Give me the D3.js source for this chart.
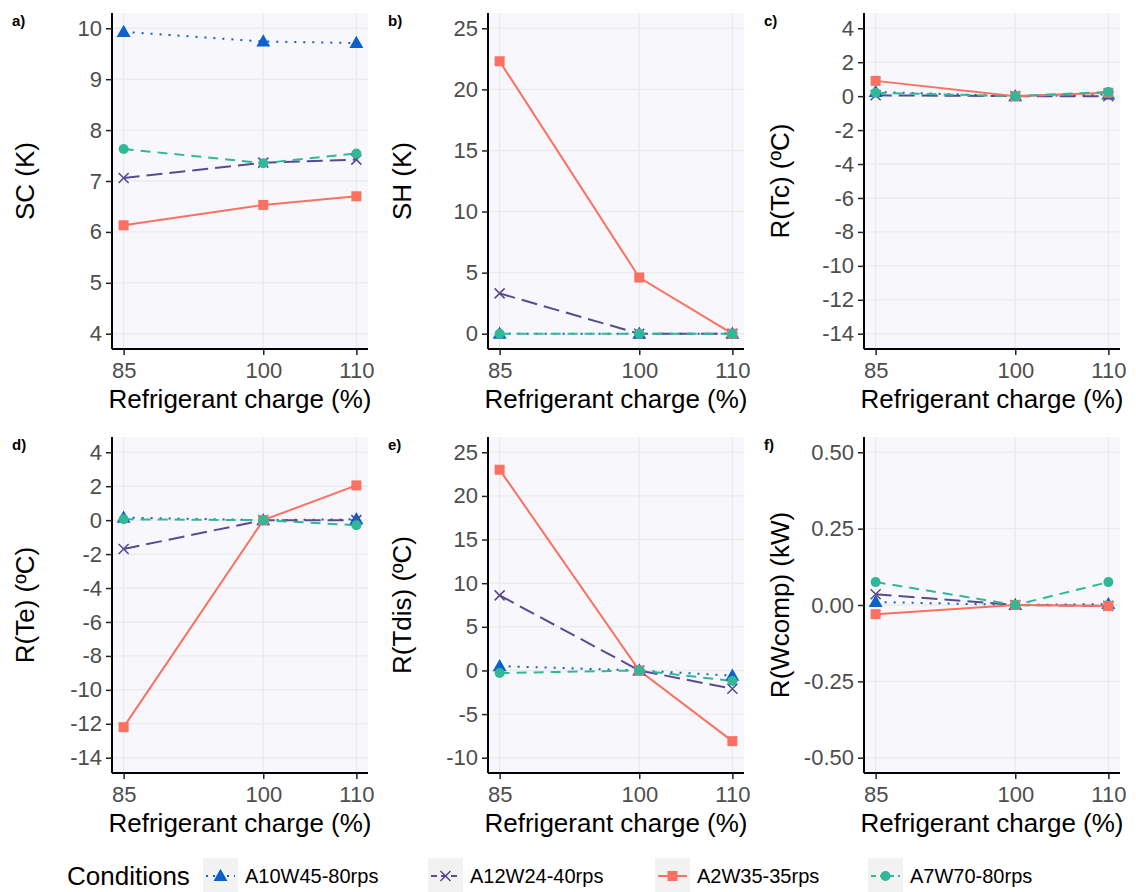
<!DOCTYPE html>
<html>
<head>
<meta charset="utf-8">
<script src="https://cdn.jsdelivr.net/npm/d3@7"></script>
<style>
  body { margin: 0; background: #fff; }
  svg { font-family: "Liberation Sans", Arial, sans-serif; }
</style>
</head>
<body>
<div class="chart"></div>
<script>
// Data
var charges = [85, 100, 110];
var conditions = ["A10W45-80rps", "A12W24-40rps", "A2W35-35rps", "A7W70-80rps"];
var colors = ["#0a61c9", "#5b4a8f", "#fb7060", "#30b898"];
var dashes = ["2,7", "16,7", "", "10,7"];
var shapes = ["triangle", "cross", "square", "circle"];

var scValues = [[9.93, 9.74, 9.71], [7.06, 7.36, 7.42], [6.13, 6.53, 6.70], [7.63, 7.35, 7.54]];
var shValues = [[0, 0, 0], [3.3, 0, 0], [22.3, 4.6, 0], [0, 0, 0]];
var tcValues = [[0.25, 0, 0.1], [0.05, 0, 0], [0.9, 0, 0.2], [0.2, 0, 0.25]];
var teValues = [[0.15, 0, 0.05], [-1.7, 0, 0], [-12.2, 0, 2.05], [0.05, 0, -0.3]];
var tdisValues = [[0.5, 0, -0.6], [8.6, 0, -2.1], [23.0, 0, -8.1], [-0.3, 0, -1.2]];
var wcompValues = [[0.01, 0, 0.003], [0.035, 0, -0.003], [-0.03, 0, -0.003], [0.075, 0, 0.075]];

var scTicks = [4, 5, 6, 7, 8, 9, 10];
var shTicks = [0, 5, 10, 15, 20, 25];
var tTicks = [-14, -12, -10, -8, -6, -4, -2, 0, 2, 4];
var tdisTicks = [-10, -5, 0, 5, 10, 15, 20, 25];
var wTicks = [-0.5, -0.25, 0, 0.25, 0.5];

var panels = [
  { tag: "a)", title: "SC (K)", values: scValues, ticks: scTicks, fmt: "d", col: 0, row: 0 },
  { tag: "b)", title: "SH (K)", values: shValues, ticks: shTicks, fmt: "d", col: 1, row: 0 },
  { tag: "c)", title: "R(Tc) (ºC)", values: tcValues, ticks: tTicks, fmt: "d", col: 2, row: 0 },
  { tag: "d)", title: "R(Te) (ºC)", values: teValues, ticks: tTicks, fmt: "d", col: 0, row: 1 },
  { tag: "e)", title: "R(Tdis) (ºC)", values: tdisValues, ticks: tdisTicks, fmt: "d", col: 1, row: 1 },
  { tag: "f)", title: "R(Wcomp) (kW)", values: wcompValues, ticks: wTicks, fmt: ".2f", col: 2, row: 1 }
];

var svgWidth = 1136;
var svgHeight = 892;
var colLeft = [112, 488, 864];
var rowTop = [13, 437];
var panelW = 256;
var panelH = 336;

var svg = d3.select(".chart").append("svg")
  .attr("width", svgWidth)
  .attr("height", svgHeight);

function drawMarker(g, shape, color, size) {
  if (shape === "triangle") {
    var s = size * 1.2;
    g.append("path")
      .attr("d", "M0," + (-s * 0.6) + "L" + (s * 0.58) + "," + (s * 0.42) + "L" + (-s * 0.58) + "," + (s * 0.42) + "Z")
      .attr("fill", color);
  } else if (shape === "square") {
    g.append("rect").attr("x", -size / 2).attr("y", -size / 2)
      .attr("width", size).attr("height", size).attr("fill", color);
  } else if (shape === "circle") {
    g.append("circle").attr("r", size / 2).attr("fill", color);
  } else {
    var h = size / 2;
    g.append("path")
      .attr("d", "M" + (-h) + "," + (-h) + "L" + h + "," + h + "M" + (-h) + "," + h + "L" + h + "," + (-h))
      .attr("stroke", color).attr("stroke-width", 1.6).attr("fill", "none");
  }
}

function hyphen(f) {
  return function(d) { return f(d).replace("−", "-"); };
}

panels.forEach(function(p) {
  var left = colLeft[p.col];
  var top = rowTop[p.row];
  var g = svg.append("g").attr("transform", "translate(" + left + "," + top + ")");

  var yMin = d3.min(p.ticks), yMax = d3.max(p.ticks);
  var pad = (yMax - yMin) * 0.05;
  var x = d3.scaleLinear().domain([83.75, 111.25]).range([0, panelW]);
  var y = d3.scaleLinear().domain([yMin - pad, yMax + pad]).range([panelH, 0]);

  // panel background
  g.append("rect").attr("width", panelW).attr("height", panelH).attr("fill", "#f8f8fc");

  // grid
  g.selectAll(".hgrid").data(p.ticks).enter().append("line")
    .attr("x1", 0).attr("x2", panelW)
    .attr("y1", function(d) { return y(d); }).attr("y2", function(d) { return y(d); })
    .attr("stroke", "#ebebeb").attr("stroke-width", 1.4);
  g.selectAll(".vgrid").data(charges).enter().append("line")
    .attr("y1", 0).attr("y2", panelH)
    .attr("x1", function(d) { return x(d); }).attr("x2", function(d) { return x(d); })
    .attr("stroke", "#ebebeb").attr("stroke-width", 1.4);

  // lines
  var line = d3.line()
    .x(function(d, i) { return x(charges[i]); })
    .y(function(d) { return y(d); });

  p.values.forEach(function(series, k) {
    g.append("path")
      .datum(series)
      .attr("d", line)
      .attr("fill", "none")
      .attr("stroke", colors[k])
      .attr("stroke-width", 2)
      .attr("stroke-dasharray", dashes[k]);
  });

  p.values.forEach(function(series, k) {
    series.forEach(function(v, i) {
      var m = g.append("g").attr("transform", "translate(" + x(charges[i]) + "," + y(v) + ")");
      drawMarker(m, shapes[k], colors[k], 10);
    });
  });

  // axes
  var f = d3.format(p.fmt);
  var xAxis = d3.axisBottom(x).tickValues(charges).tickSize(6).tickPadding(4).tickFormat(d3.format("d"));
  var yAxis = d3.axisLeft(y).tickValues(p.ticks).tickSize(6).tickPadding(4).tickFormat(hyphen(f));

  var gx = g.append("g").attr("transform", "translate(0," + panelH + ")").call(xAxis);
  var gy = g.append("g").call(yAxis);
  [gx, gy].forEach(function(a) {
    a.select(".domain").attr("stroke", "#000").attr("stroke-width", 2).attr("d",
      a === gx ? "M0,0H" + panelW : "M0,0V" + panelH);
    a.selectAll(".tick line").attr("stroke", "#222").attr("stroke-width", 1.5);
    a.selectAll(".tick text").attr("fill", "#4d4d4d").style("font-size", "22px");
  });
  gx.selectAll(".tick text").attr("dy", "0.85em");

  // x title
  g.append("text")
    .attr("x", panelW / 2).attr("y", panelH + 59)
    .attr("text-anchor", "middle")
    .style("font-size", "26px")
    .text("Refrigerant charge (%)");

  // y title
  var titleX = [25, 402, 780][p.col] - left;
  g.append("text")
    .attr("transform", "translate(" + (titleX + 9) + "," + (panelH / 2) + ") rotate(-90)")
    .attr("text-anchor", "middle")
    .style("font-size", "26px")
    .text(p.title);

  // tag
  svg.append("text")
    .attr("x", [12, 388, 764][p.col]).attr("y", top + 13)
    .style("font-size", "15px").style("font-weight", "bold")
    .text(p.tag);
});

// legend
var legend = svg.append("g").attr("transform", "translate(0,876)");
legend.append("text").attr("x", 67).attr("y", 9).style("font-size", "26px").text("Conditions");
var keyX = [203, 428, 655, 868];
conditions.forEach(function(c, k) {
  var lg = legend.append("g").attr("transform", "translate(" + keyX[k] + ",0)");
  lg.append("rect").attr("x", 0).attr("y", -18).attr("width", 35).attr("height", 36).attr("fill", "#f2f2f2");
  lg.append("line").attr("x1", 3).attr("x2", 32).attr("y1", 0).attr("y2", 0)
    .attr("stroke", colors[k]).attr("stroke-width", 2)
    .attr("stroke-dasharray", k === 0 ? "2,5" : (k === 1 ? "6,4" : (k === 3 ? "5,4" : "")));
  var m = lg.append("g").attr("transform", "translate(17.5,0)");
  drawMarker(m, shapes[k], colors[k], 10);
  lg.append("text").attr("x", 42).attr("y", 7).style("font-size", "20px").text(c);
});
</script>
</body>
</html>
